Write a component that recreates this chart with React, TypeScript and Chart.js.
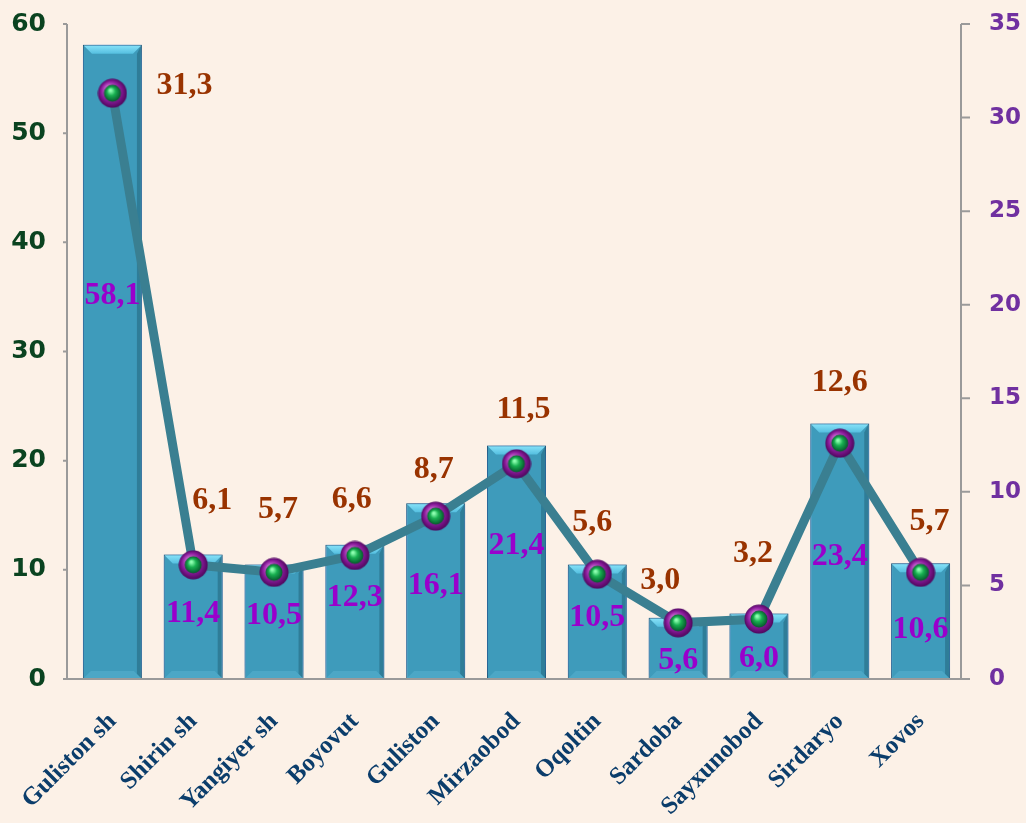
import React, { useEffect, useRef } from "react";
import { Chart, registerables } from "chart.js";

Chart.register(...registerables);

const categories = ["Guliston sh", "Shirin sh", "Yangiyer sh", "Boyovut", "Guliston", "Mirzaobod", "Oqoltin", "Sardoba", "Sayxunobod", "Sirdaryo", "Xovos"];
const barValues = [58.1, 11.4, 10.5, 12.3, 16.1, 21.4, 10.5, 5.6, 6.0, 23.4, 10.6];
const lineValues = [31.3, 6.1, 5.7, 6.6, 8.7, 11.5, 5.6, 3.0, 3.2, 12.6, 5.7];
const leftTicks = [0, 10, 20, 30, 40, 50, 60];
const rightTicks = [0, 5, 10, 15, 20, 25, 30, 35];

const fmt = (v: number) => v.toFixed(1).replace(".", ",");

function makeMarker(): HTMLCanvasElement {
  const c = document.createElement("canvas");
  c.width = 30;
  c.height = 30;
  const g = c.getContext("2d")!;
  const og = g.createRadialGradient(11, 10, 2, 15, 15, 15);
  og.addColorStop(0, "#d070d8");
  og.addColorStop(0.6, "#8a1a9a");
  og.addColorStop(1, "#4a0658");
  g.fillStyle = og;
  g.beginPath();
  g.arc(15, 15, 14.5, 0, Math.PI * 2);
  g.fill();
  const ig = g.createRadialGradient(13, 12, 1, 15, 15, 9);
  ig.addColorStop(0, "#8dffb0");
  ig.addColorStop(0.4, "#18b050");
  ig.addColorStop(1, "#05502a");
  g.fillStyle = ig;
  g.beginPath();
  g.arc(15, 15, 8.5, 0, Math.PI * 2);
  g.fill();
  return c;
}

const barGlow = {
  id: "barGlow",
  beforeDatasetDraw(chart: any, args: any) {
    if (args.index !== 0) return;
    const ctx = chart.ctx;
    ctx.save();
    ctx.shadowColor = "rgba(60,140,235,0.9)";
    ctx.shadowBlur = 16;
  },
  afterDatasetDraw(chart: any, args: any) {
    if (args.index !== 0) return;
    const ctx = chart.ctx;
    ctx.restore();
    const meta = chart.getDatasetMeta(0);
    meta.data.forEach((bar: any) => {
      const w = bar.width;
      const l = bar.x - w / 2;
      const r = bar.x + w / 2;
      const t = bar.y;
      const b = bar.base;
      const bv = 9;
      ctx.save();
      const tg = ctx.createLinearGradient(0, t, 0, t + bv);
      tg.addColorStop(0, "#8ae4fa");
      tg.addColorStop(1, "#55bfe0");
      ctx.fillStyle = tg;
      ctx.beginPath();
      ctx.moveTo(l + 1, t + 1);
      ctx.lineTo(r - 1, t + 1);
      ctx.lineTo(r - bv, t + bv);
      ctx.lineTo(l + bv, t + bv);
      ctx.closePath();
      ctx.fill();
      ctx.fillStyle = "rgba(20,70,90,0.35)";
      ctx.beginPath();
      ctx.moveTo(r - 1, t + 1);
      ctx.lineTo(r - 1, b - 1);
      ctx.lineTo(r - 5, b - 5);
      ctx.lineTo(r - 5, t + bv);
      ctx.closePath();
      ctx.fill();
      ctx.fillStyle = "rgba(90,180,210,0.5)";
      ctx.beginPath();
      ctx.moveTo(l + 1, b - 1);
      ctx.lineTo(r - 1, b - 1);
      ctx.lineTo(r - 8, b - 8);
      ctx.lineTo(l + 8, b - 8);
      ctx.closePath();
      ctx.fill();
      ctx.restore();
    });
  },
};

const axesLines = {
  id: "axesLines",
  afterDraw(chart: any) {
    const ctx = chart.ctx;
    const ca = chart.chartArea;
    const yl = chart.scales.y;
    const yr = chart.scales.y1;
    const lx = ca.left - 5;
    ctx.save();
    ctx.strokeStyle = "#9a9a9a";
    ctx.lineWidth = 2;
    ctx.beginPath();
    ctx.moveTo(lx, yl.getPixelForValue(60));
    ctx.lineTo(lx, yl.getPixelForValue(0));
    leftTicks.forEach((v) => {
      const y = yl.getPixelForValue(v);
      ctx.moveTo(lx - 4, y);
      ctx.lineTo(lx, y);
    });
    ctx.moveTo(lx - 3, ca.bottom);
    ctx.lineTo(ca.right, ca.bottom);
    ctx.moveTo(ca.right, yr.getPixelForValue(35));
    ctx.lineTo(ca.right, yr.getPixelForValue(0));
    rightTicks.forEach((v) => {
      const y = yr.getPixelForValue(v);
      ctx.moveTo(ca.right, y);
      ctx.lineTo(ca.right + 9, y);
    });
    ctx.stroke();
    ctx.restore();
  },
};

const valueLabels = {
  id: "valueLabels",
  afterDatasetsDraw(chart: any, _args: any, opts: any) {
    const ctx = chart.ctx;
    ctx.save();
    ctx.font = "bold 32px 'Liberation Serif', 'Times New Roman', serif";
    ctx.textAlign = "center";
    ctx.textBaseline = "middle";
    const bars = chart.getDatasetMeta(0).data;
    ctx.fillStyle = "#9900cc";
    bars.forEach((bar: any, i: number) => {
      const y = (bar.y + bar.base) / 2 + (opts.barDy[i] || 0);
      ctx.fillText(fmt(barValues[i]), bar.x, y);
    });
    const pts = chart.getDatasetMeta(1).data;
    ctx.fillStyle = "#993300";
    pts.forEach((p: any, i: number) => {
      const [dx, dy] = opts.lineOff[i];
      ctx.fillText(fmt(lineValues[i]), p.x + dx, p.y + dy);
    });
    ctx.restore();
  },
};

export default function App() {
  const ref = useRef<HTMLCanvasElement | null>(null);
  useEffect(() => {
    if (!ref.current) return;
    const marker = makeMarker();
    const chart = new Chart(ref.current, {
      data: {
        labels: categories,
        datasets: [
          {
            type: "bar",
            data: barValues,
            yAxisID: "y",
            order: 1,
            backgroundColor: (c: any) => {
              const a = c.chart.chartArea;
              if (!a) return "#3e9bbb";
              const el = c.element;
              if (!el || el.width === undefined) return "#3e9bbb";
              const l = el.x - el.width / 2;
              const g = c.chart.ctx.createLinearGradient(l, 0, l + el.width, 0);
              g.addColorStop(0, "#3a98b8");
              g.addColorStop(0.5, "#43a2c2");
              g.addColorStop(1, "#3590b0");
              return g;
            },
            borderColor: "#1d4d5c",
            borderWidth: 1,
            borderSkipped: false,
            barPercentage: 0.73,
            categoryPercentage: 1,
          } as any,
          {
            type: "line",
            data: lineValues,
            yAxisID: "y1",
            order: 0,
            borderColor: "#3a7f91",
            borderWidth: 9,
            pointStyle: marker as any,
            pointRadius: 15,
            tension: 0,
          } as any,
        ],
      },
      options: {
        animation: false,
        responsive: true,
        maintainAspectRatio: false,
        layout: { padding: { top: 24, left: 0, right: 0, bottom: 0 } },
        plugins: {
          legend: { display: false },
          tooltip: { enabled: false },
          valueLabels: {
            barDy: [-66, -3, -6, -14, -5, -16, -4, 12, 12, 5, 9],
            lineOff: [[72, -8], [19, -64], [4, -63], [-3, -56], [-2, -46], [7, -54], [-5, -51], [-18, -42], [-6, -65], [0, -60], [9, -51]],
          },
        } as any,
        scales: {
          x: {
            offset: true,
            grid: { display: false },
            border: { display: false },
            ticks: {
              minRotation: 45,
              maxRotation: 45,
              padding: 20,
              color: "#0b3d6b",
              font: { family: "'Liberation Serif', 'Times New Roman', serif", size: 25, weight: "bold" },
            },
            afterFit: (s: any) => {
              s.height = 144;
            },
          },
          y: {
            position: "left",
            min: 0,
            max: 60,
            grid: { display: false, tickLength: 26 },
            border: { display: false },
            ticks: {
              stepSize: 10,
              padding: 0,
              color: "#0a4320",
              font: { family: "'DejaVu Sans', sans-serif", size: 25, weight: "bold" },
            },
            afterFit: (s: any) => {
              s.width = 72;
            },
          },
          y1: {
            position: "right",
            min: 0,
            max: 35,
            grid: { display: false, tickLength: 28 },
            border: { display: false },
            ticks: {
              stepSize: 5,
              padding: 0,
              color: "#7030a0",
              font: { family: "'DejaVu Sans', sans-serif", size: 23, weight: "bold" },
            },
            afterFit: (s: any) => {
              s.width = 65;
            },
          },
        },
      },
      plugins: [barGlow, axesLines, valueLabels],
    });
    return () => chart.destroy();
  }, []);
  return (
    <div style={{ position: "absolute", left: 0, top: 0, width: 1026, height: 823, background: "#fcf1e7" }}>
      <canvas ref={ref} />
    </div>
  );
}
